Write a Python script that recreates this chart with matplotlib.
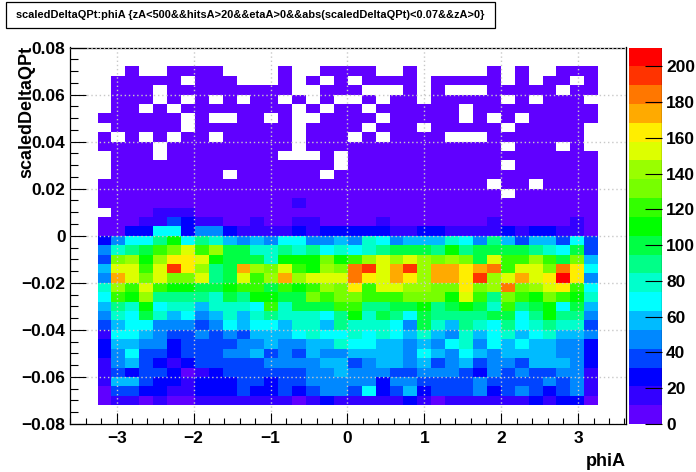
#!/usr/bin/env python3
"""scaledDeltaQPt vs phiA, ROOT style colz plot."""

import matplotlib
matplotlib.use("Agg")
import matplotlib.pyplot as plt
import numpy as np
from matplotlib.colors import BoundaryNorm, ListedColormap
from matplotlib.patches import Rectangle

plt.rcParams["font.family"] = ["Liberation Sans", "DejaVu Sans"]
plt.rcParams["font.weight"] = "bold"

W, H = 696, 472

TITLE = "scaledDeltaQPt:phiA {zA<500&&hitsA>20&&etaA>0&&abs(scaledDeltaQPt)<0.07&&zA>0}"
X_LABEL = "phiA"
Y_LABEL = "scaledDeltaQPt"

X_RANGE = (-3.61, 3.62)
Y_RANGE = (-0.08, 0.08)
N_BINS = 40
Z_MAX = 210.5

PALETTE = [
    "#6000ff", "#3300ff", "#0000ff", "#0044ff", "#0088ff",
    "#00bbff", "#00ffff", "#00ffcc", "#00ff88", "#00ff44",
    "#00ff00", "#33ff00", "#77ff00", "#99ff00", "#ddff00",
    "#ffee00", "#ffaa00", "#ff7700", "#ff3300", "#ff0000",
]

# counts per bin, top row first (y 0.072 down to -0.072), first filled phi bin to last
counts_upper = [
    [0,0,5,0,0,5,5,5,5,0,0,0,0,5,0,0,5,5, 5,5,0,0,5,0,0,0,0,0,5,0,5,0,0,5,5,5],
    [0,5,5,5,5,5,0,5,5,5,0,0,0,5,0,5,0,5, 0,5,5,5,5,0,5,5,5,5,5,0,5,0,5,5,0,5],
    [0,5,5,5,0,5,5,5,5,5,5,5,5,5,0,0,5,5, 5,0,0,0,5,0,5,0,0,0,5,5,5,5,5,0,5,5],
    [0,5,5,5,0,5,0,5,0,5,0,5,5,0,5,0,5,0, 0,5,0,5,5,0,5,5,5,5,5,0,5,0,5,5,5,0],
    [0,5,5,0,5,0,5,5,5,5,5,5,5,5,0,5,0,5, 5,0,5,5,5,5,5,5,0,5,5,5,5,5,5,5,5,5],
    [5,5,5,5,5,5,0,5,0,0,5,5,0,5,0,0,5,5, 5,5,0,5,5,5,5,5,0,5,0,5,0,5,5,5,5,5],
    [0,5,5,5,5,5,0,5,5,5,5,5,5,5,0,5,5,5, 5,0,5,5,5,0,5,5,5,5,5,0,5,5,5,5,5,0],
    [5,0,5,0,5,0,5,5,0,5,5,5,5,5,0,5,5,5, 0,5,0,5,5,5,5,0,0,0,5,5,5,5,5,5,5,0],
    [5,5,5,5,0,5,5,5,5,5,5,5,5,5,0,5,5,5, 5,5,5,5,5,5,5,5,5,5,5,0,5,5,5,0,5,0],
    [0,5,5,5,0,5,5,5,5,5,5,5,5,0,0,0,5,0, 5,5,5,5,5,5,5,5,5,5,5,5,5,5,5,5,5,5],
    [0,5,5,5,5,5,5,5,5,5,5,5,5,5,5,5,5,0, 5,5,5,5,5,5,5,5,5,5,5,0,5,5,5,5,5,5],
    [0,5,5,5,5,5,5,5,5,0,5,5,5,5,5,5,0,5, 5,5,5,5,5,5,5,5,5,5,5,5,5,5,5,5,5,5],
    [5,5,5,5,5,5,5,5,5,5,5,5,5,5,5,5,5,5, 5,5,5,5,5,5,5,5,5,5,0,5,5,0,5,5,5,5],
    [5,5,5,5,5,5,5,5,5,5,5,5,5,5,5,5,5,5, 5,5,5,5,5,5,5,5,5,5,5,0,5,5,5,5,5,5],
    [5,5,5,5,5,5,5,5,5,5,5,5,5,5,16,5,5,5, 5,5,5,5,5,5,5,5,5,5,5,5,5,5,5,5,5,5],
    [0,5,5,5,16,16,16,5,5,5,5,5,5,5,5,5,5,5, 5,5,5,5,5,5,5,5,5,5,5,5,5,5,5,5,5,5],
    [5,5,5,16,16,37,26,16,16,5,5,16,5,5,16,16,5,5, 5,5,16,5,5,5,5,5,5,5,16,5,5,5,5,5,16,5],
    [5,5,26,26,68,68,26,47,47,26,16,16,16,16,26,16,26,26, 26,26,26,16,16,26,26,16,16,16,16,26,16,26,26,16,16,5],
]

counts_lower = [
    [26,47,68,68,89,110,68,89,79,58,47,58,47,68,68,47,47,58, 47,79,68,47,58,58,58,79,68,47,89,58,37,58,58,37,68,37],
    [47,79,89,100,121,131,152,121,142,100,100,79,79,89,79,89,68,79, 68,79,89,100,100,100,89,110,89,100,100,100,100,89,79,68,100,37],
    [37,131,142,110,142,163,163,152,110,100,100,100,79,110,110,110,131,110, 121,142,152,142,152,142,131,142,131,100,152,121,121,142,121,100,131,58],
    [58,152,152,121,152,194,163,142,89,100,173,142,131,152,121,110,142,131, 184,194,152,173,194,142,173,173,163,173,184,121,152,152,131,184,163,68],
    [47,173,152,131,152,131,131,152,89,100,152,121,142,173,142,152,152,152, 184,163,152,173,163,142,173,173,163,194,142,152,173,152,163,205,163,47],
    [79,142,121,152,121,110,110,100,100,110,121,121,100,121,110,121,142,131, 163,121,152,152,142,142,131,131,163,131,142,184,131,142,152,163,121,68],
    [68,121,110,142,89,89,89,89,79,100,89,110,110,100,100,131,121,131, 131,121,121,121,131,131,131,110,152,121,89,131,121,110,131,121,110,79],
    [58,89,79,110,68,79,79,58,79,79,79,68,121,79,100,100,100,121, 121,89,89,100,100,110,89,100,110,100,79,121,89,100,110,68,100,58],
    [47,79,68,100,79,58,68,47,58,79,58,79,89,79,79,79,68,89, 110,79,100,89,68,100,89,89,89,89,100,100,68,89,110,89,89,47],
    [37,58,68,68,47,47,47,37,47,68,58,68,68,58,79,79,58,89, 79,79,79,68,47,100,79,58,89,79,68,89,68,79,89,79,79,37],
    [16,68,68,58,47,37,37,47,37,47,37,58,58,58,68,79,68,68, 79,68,79,68,58,79,58,47,79,58,68,79,58,68,79,58,58,47],
    [26,58,58,47,47,26,37,37,37,37,47,47,58,47,47,58,58,79, 68,68,58,58,47,58,47,68,79,47,68,58,68,58,58,47,47,26],
    [26,47,68,37,37,26,37,37,37,47,47,58,37,47,37,58,47,47, 58,58,58,58,47,68,58,47,68,58,47,58,58,58,58,47,47,26],
    [16,47,58,37,26,16,26,37,37,37,37,37,47,47,47,47,58,58, 37,47,58,58,47,58,37,47,58,37,47,47,37,58,58,58,47,26],
    [16,37,26,37,37,26,5,16,26,37,37,37,37,37,37,47,47,58, 47,47,47,37,37,47,47,47,37,26,47,37,47,37,37,47,47,16],
    [16,58,58,37,26,26,16,26,26,26,37,37,26,37,37,47,47,47, 47,47,26,47,47,37,37,37,37,47,37,37,37,37,47,37,47,16],
    [5,37,37,26,26,16,16,26,26,26,37,26,26,37,26,37,47,47, 37,68,26,37,58,26,37,37,37,47,26,37,47,37,26,37,47,16],
    [5,16,16,5,16,5,5,16,16,16,16,16,16,16,5,16,26,16, 16,16,16,16,26,16,5,16,16,16,16,16,16,26,16,26,26,5],
]

xticks = [-3, -2, -1, 0, 1, 2, 3]
yticks = [-0.08, -0.06, -0.04, -0.02, 0, 0.02, 0.04, 0.06, 0.08]
zticks = [0, 20, 40, 60, 80, 100, 120, 140, 160, 180, 200]


def px_axes(fig, x0, y0, x1, y1):
    return fig.add_axes([x0 / W, 1 - y1 / H, (x1 - x0) / W, (y1 - y0) / H])


def minus(s):
    return s.replace("-", "\u2212")


fig = plt.figure(figsize=(W / 100, H / 100), dpi=100)
ax = px_axes(fig, 69.7, 47.5, 626, 424)

# full histogram range, the two outer bins on each side stay empty
grid = np.zeros((N_BINS, N_BINS))
grid[2:38, 2:38] = np.array(counts_upper + counts_lower)[::-1]
xedges = np.linspace(X_RANGE[0], X_RANGE[1], N_BINS + 1)
yedges = np.linspace(Y_RANGE[0], Y_RANGE[1], N_BINS + 1)

cmap = ListedColormap(PALETTE)
norm = BoundaryNorm(np.linspace(0, Z_MAX, len(PALETTE) + 1), len(PALETTE))
mesh = ax.pcolormesh(xedges, yedges, np.ma.masked_equal(grid, 0), cmap=cmap, norm=norm)

ax.set_xlim(X_RANGE)
ax.set_ylim(Y_RANGE)
ax.set_xticks(xticks)
ax.set_xticklabels([minus(str(t)) for t in xticks])
ax.set_yticks(yticks)
ax.set_yticklabels([minus(f"{t:g}") if t == 0 else minus(f"{t:.2f}") for t in yticks])
ax.set_xticks(np.arange(-3.6, 3.61, 0.2), minor=True)
ax.set_yticks(np.arange(-0.08, 0.0801, 0.005), minor=True)
ax.tick_params(axis="x", which="major", direction="in", length=8, width=0.8, labelsize=12.5, pad=5)
ax.tick_params(axis="x", which="minor", direction="in", length=4, width=0.8)
ax.tick_params(axis="y", which="major", direction="in", length=11.5, width=0.8, labelsize=12.5, pad=3)
ax.tick_params(axis="y", which="minor", direction="in", length=5.8, width=0.8)
ax.set_axisbelow(False)
ax.grid(True, which="major", color="#c8c8c8", linewidth=1.0, linestyle=(0, (1, 2)))
for side in ("top", "bottom"):
    ax.spines[side].set_linestyle((0, (2, 1)))
    ax.spines[side].set_linewidth(0.9)
for side in ("left", "right"):
    ax.spines[side].set_linewidth(0.9)

fig.text(626 / W, 1 - 461 / H, X_LABEL, ha="right", va="center", fontsize=13)
fig.text(27 / W, 1 - 46 / H, Y_LABEL, ha="center", va="top", rotation=90, fontsize=13)

cax = px_axes(fig, 629, 47.5, 662, 424)
cbar = fig.colorbar(mesh, cax=cax, ticks=zticks, spacing="proportional")
cbar.minorticks_off()
cbar.ax.tick_params(direction="in", length=12.5, width=0.8, labelsize=12.5, pad=3, color="black")
cbar.outline.set_visible(False)
cax.axvline(1, color="black", linewidth=0.9)
cax.set_xlim(0, 1)

fig.add_artist(Rectangle((6 / W, 1 - 28 / H), 489 / W, 26 / H, transform=fig.transFigure,
                         facecolor="white", edgecolor="black", linewidth=0.9))
fig.text(250 / W, 1 - 15.5 / H, TITLE, ha="center", va="center", fontsize=7.9)

fig.savefig("out.png", dpi=100)
